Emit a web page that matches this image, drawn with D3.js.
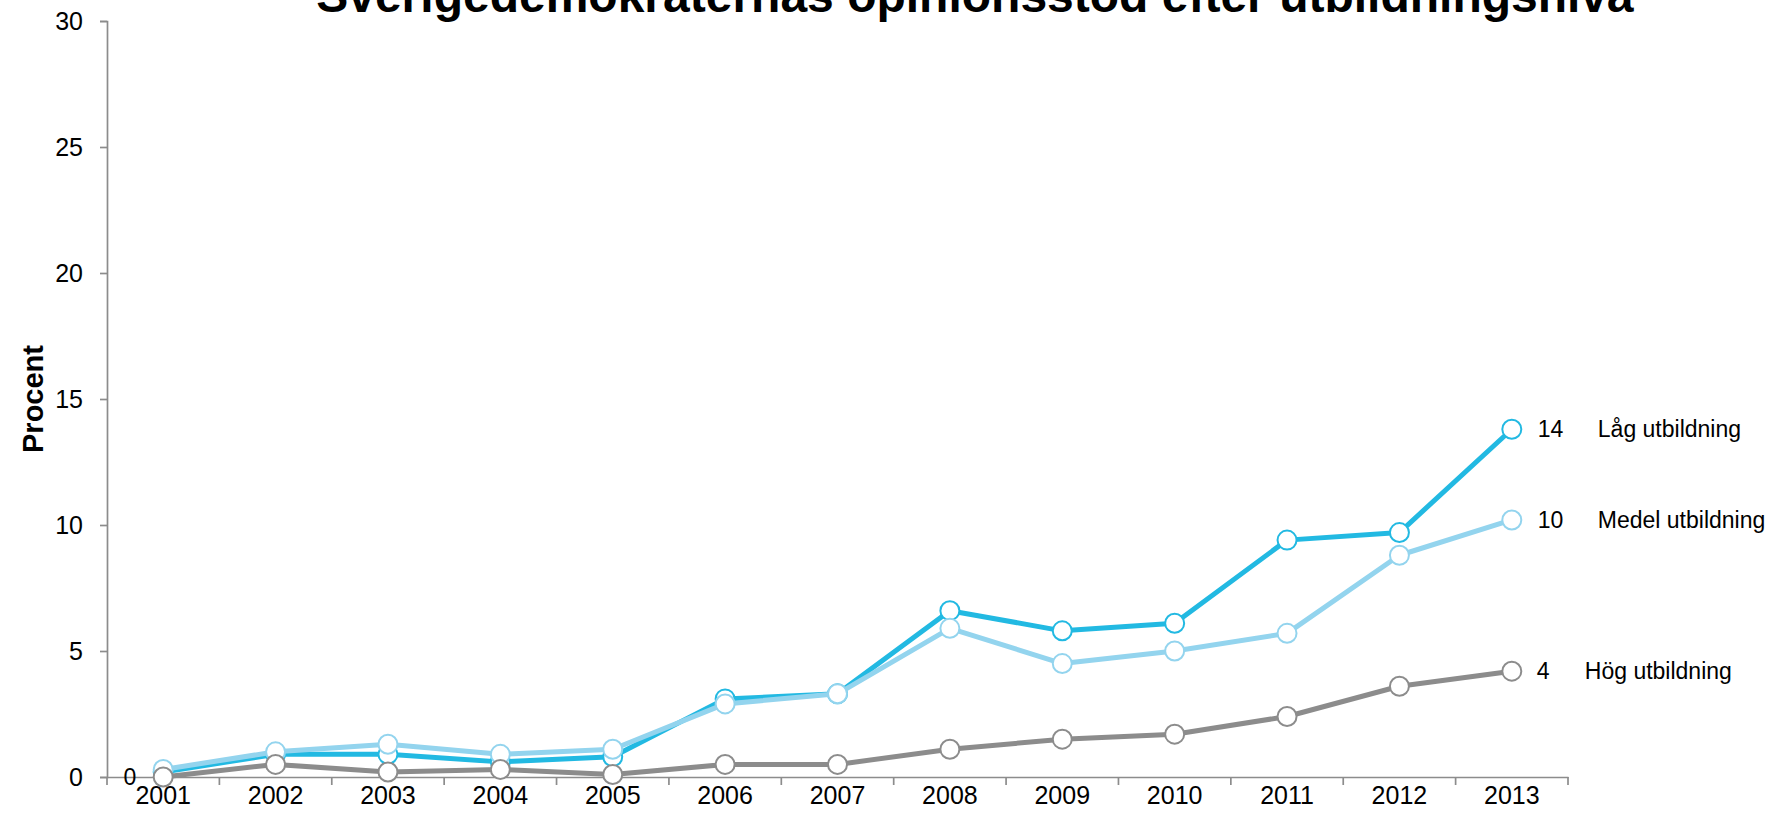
<!DOCTYPE html>
<html>
<head>
<meta charset="utf-8">
<script src="https://cdn.jsdelivr.net/npm/d3@7"></script>
<style>
	body { margin: 0; background: #fff; overflow: hidden; }
	text { font-family: "Liberation Sans", Arial, sans-serif; fill: #000; }
</style>
</head>
<body>
<svg id="chart" width="1778" height="822"></svg>
<script>
var years = ["2001","2002","2003","2004","2005","2006","2007","2008","2009","2010","2011","2012","2013"];
var lagValues    = [0.2, 0.9, 0.9, 0.6, 0.8, 3.1, 3.3, 6.6, 5.8, 6.1, 9.4, 9.7, 13.8];
var medelValues  = [0.3, 1.0, 1.3, 0.9, 1.1, 2.9, 3.3, 5.9, 4.5, 5.0, 5.7, 8.8, 10.2];
var hogValues    = [0.0, 0.5, 0.2, 0.3, 0.1, 0.5, 0.5, 1.1, 1.5, 1.7, 2.4, 3.6, 4.2];
var seriesNames  = ["Låg utbildning", "Medel utbildning", "Hög utbildning"];
var endLabels    = ["14", "10", "4"];
var yTicks       = [0, 5, 10, 15, 20, 25, 30];

var svg = d3.select("#chart");

// plot area edges (avoid "top", which is window.top)
var plotLeft = 107, plotRight = 1568, plotTop = 21, plotBottom = 777;

var x = d3.scaleBand().domain(years).range([plotLeft, plotRight]);
var y = d3.scaleLinear().domain([0, 30]).range([plotBottom, plotTop]);

// title, cut at the top like the original
svg.append("text")
	.attr("x", 975)
	.attr("y", 12)
	.attr("text-anchor", "middle")
	.style("font-size", "48px")
	.style("font-weight", "bold")
	.text("Sverigedemokraternas opinionsstöd efter utbildningsnivå");

// y axis
var yAxis = svg.append("g")
	.attr("transform", "translate(" + plotLeft + ",0)")
	.call(d3.axisLeft(y).tickValues(yTicks).tickSize(7).tickPadding(17).tickFormat(d3.format("d")));
yAxis.select(".domain").attr("stroke", "#8c8c8c").attr("stroke-width", 1.7);
yAxis.selectAll(".tick line").attr("stroke", "#8c8c8c").attr("stroke-width", 1.7);
yAxis.selectAll(".tick text").style("font-size", "25px").style("font-family", "Liberation Sans, Arial, sans-serif").attr("fill", "#000");

// x axis: labels centred on bands, ticks on band edges
var xAxis = svg.append("g")
	.attr("transform", "translate(0," + plotBottom + ")")
	.call(d3.axisBottom(x).tickSize(0).tickPadding(9).tickSizeOuter(0));
xAxis.select(".domain").attr("stroke", "#8c8c8c").attr("stroke-width", 1.7);
xAxis.selectAll(".tick text").style("font-size", "25px").style("font-family", "Liberation Sans, Arial, sans-serif").attr("fill", "#000");
var edges = years.map(function(d) { return x(d); }).concat([x(years[years.length - 1]) + x.bandwidth()]);
svg.append("g").selectAll("line").data(edges).enter().append("line")
	.attr("x1", function(d) { return d; })
	.attr("x2", function(d) { return d; })
	.attr("y1", plotBottom)
	.attr("y2", plotBottom + 8)
	.attr("stroke", "#8c8c8c")
	.attr("stroke-width", 1.7);

// y axis title
svg.append("text")
	.attr("transform", "translate(43,399) rotate(-90)")
	.attr("text-anchor", "middle")
	.style("font-size", "29px")
	.style("font-weight", "bold")
	.text("Procent");

var series = [
	{ name: seriesNames[0], values: lagValues,   color: "#22b9e2", end: endLabels[0] },
	{ name: seriesNames[1], values: medelValues, color: "#93d4ee", end: endLabels[1] },
	{ name: seriesNames[2], values: hogValues,   color: "#8c8c8c", end: endLabels[2] }
];

var cx = function(d, i) { return x(years[i]) + x.bandwidth() / 2; };

var line = d3.line()
	.x(function(d, i) { return cx(d, i); })
	.y(function(d) { return y(d); });

series.forEach(function(s) {
	var g = svg.append("g");
	g.append("path")
		.datum(s.values)
		.attr("d", line)
		.attr("fill", "none")
		.attr("stroke", s.color)
		.attr("stroke-width", 5)
		.attr("stroke-linejoin", "round");
	g.selectAll("circle").data(s.values).enter().append("circle")
		.attr("cx", cx)
		.attr("cy", function(d) { return y(d); })
		.attr("r", 9.5)
		.attr("fill", "#fff")
		.attr("stroke", s.color)
		.attr("stroke-width", 2);
});

// end labels
var last = years.length - 1;
var lastX = x(years[last]) + x.bandwidth() / 2;
var numOffset = [26, 26, 25];
var nameOffset = [86, 86, 73];
series.forEach(function(s, k) {
	var yy = y(s.values[last]);
	svg.append("text")
		.attr("x", lastX + numOffset[k])
		.attr("y", yy)
		.attr("dy", "0.35em")
		.style("font-size", "23px")
		.text(s.end);
	svg.append("text")
		.attr("x", lastX + nameOffset[k])
		.attr("y", yy)
		.attr("dy", "0.35em")
		.style("font-size", "23px")
		.text(s.name);
});

// start label for Hög utbildning
svg.append("text")
	.attr("x", x(years[0]) + x.bandwidth() / 2 - 27)
	.attr("y", y(hogValues[0]))
	.attr("dy", "0.35em")
	.attr("text-anchor", "end")
	.style("font-size", "23px")
	.text("0");
</script>
</body>
</html>
